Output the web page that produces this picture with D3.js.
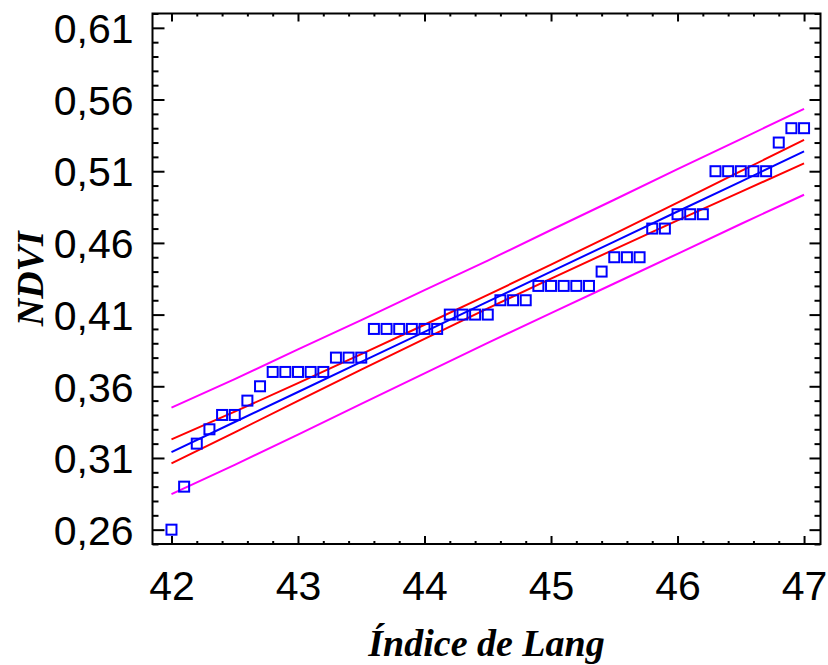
<!DOCTYPE html>
<html>
<head>
<meta charset="utf-8">
<script src="https://cdn.jsdelivr.net/npm/d3@7"></script>
<style>
  body { margin: 0; background: #fff; }
  svg { display: block; }
</style>
</head>
<body>
<div id="chart"></div>
<script>
// observed points (Índice de Lang vs NDVI)
var langX = [42.0, 42.1, 42.2, 42.3, 42.4, 42.5, 42.6, 42.7, 42.8, 42.9,
             43.0, 43.1, 43.2, 43.3, 43.4, 43.5, 43.6, 43.7, 43.8, 43.9,
             44.0, 44.1, 44.2, 44.3, 44.4, 44.5, 44.6, 44.7, 44.8, 44.9,
             45.0, 45.1, 45.2, 45.3, 45.4, 45.5, 45.6, 45.7, 45.8, 45.9,
             46.0, 46.1, 46.2, 46.3, 46.4, 46.5, 46.6, 46.7, 46.8, 46.9, 47.0];
var ndvi  = [0.26, 0.29, 0.32, 0.33, 0.34, 0.34, 0.35, 0.36, 0.37, 0.37,
             0.37, 0.37, 0.37, 0.38, 0.38, 0.38, 0.40, 0.40, 0.40, 0.40,
             0.40, 0.40, 0.41, 0.41, 0.41, 0.41, 0.42, 0.42, 0.42, 0.43,
             0.43, 0.43, 0.43, 0.43, 0.44, 0.45, 0.45, 0.45, 0.47, 0.47,
             0.48, 0.48, 0.48, 0.51, 0.51, 0.51, 0.51, 0.51, 0.53, 0.54, 0.54];

// fitted model and limits, read at half-unit steps
var lineX     = [42, 42.5, 43, 43.5, 44, 44.5, 45, 45.5, 46, 46.5, 47];
var fitted    = [0.3141, 0.3351, 0.3560, 0.3770, 0.3980, 0.4190, 0.4400, 0.4609, 0.4819, 0.5028, 0.5238];
var confUpper = [0.3230, 0.3423, 0.3622, 0.3824, 0.4029, 0.4237, 0.4449, 0.4663, 0.4881, 0.5100, 0.5318];
var confLower = [0.3062, 0.3279, 0.3498, 0.3716, 0.3931, 0.4143, 0.4351, 0.4555, 0.4757, 0.4956, 0.5155];
var predUpper = [0.3451, 0.3650, 0.3857, 0.4062, 0.4270, 0.4477, 0.4690, 0.4901, 0.5114, 0.5324, 0.5535];
var predLower = [0.2848, 0.3052, 0.3263, 0.3478, 0.3690, 0.3903, 0.4110, 0.4317, 0.4524, 0.4732, 0.4936];

var xMajor = [42, 43, 44, 45, 46, 47];
var yMajor = [0.26, 0.31, 0.36, 0.41, 0.46, 0.51, 0.56, 0.61];

(function() {
  var width = 828, height = 665;
  var m = { left: 152.5, right: 820.5, top: 13.5, bottom: 544 };

  var svg = d3.select("#chart").append("svg")
      .attr("width", width)
      .attr("height", height);

  var x = d3.scaleLinear().domain([41.85, 47.13]).range([m.left, m.right]);
  var y = d3.scaleLinear().domain([0.25, 0.62]).range([m.bottom, m.top]);

  var xMinor = d3.range(42, 47.13, 0.2).map(d => +d.toFixed(1)).filter(d => xMajor.indexOf(d) < 0);
  var yMinor = d3.range(0.25, 0.6201, 0.01).map(d => +d.toFixed(2)).filter(d => yMajor.indexOf(d) < 0);

  var comma = d => d3.format(".2f")(d).replace(".", ",");

  function styleAxis(g) {
    g.select(".domain").remove();
    g.selectAll(".tick line").attr("stroke", "#000").attr("stroke-width", 2);
  }

  // minor ticks
  svg.append("g").attr("transform", `translate(0,${m.bottom})`)
      .call(d3.axisBottom(x).tickValues(xMinor).tickSize(-3).tickFormat(""))
      .call(styleAxis);
  svg.append("g").attr("transform", `translate(0,${m.top})`)
      .call(d3.axisTop(x).tickValues(xMinor).tickSize(-3).tickFormat(""))
      .call(styleAxis);
  svg.append("g").attr("transform", `translate(${m.left},0)`)
      .call(d3.axisLeft(y).tickValues(yMinor).tickSize(-6).tickFormat(""))
      .call(styleAxis);
  svg.append("g").attr("transform", `translate(${m.right},0)`)
      .call(d3.axisRight(y).tickValues(yMinor).tickSize(-6).tickFormat(""))
      .call(styleAxis);

  // major ticks with labels
  var xAxis = svg.append("g").attr("transform", `translate(0,${m.bottom})`)
      .call(d3.axisBottom(x).tickValues(xMajor).tickSize(-8).tickPadding(27).tickFormat(d3.format("d")))
      .call(styleAxis);
  xAxis.selectAll("text")
      .attr("font-family", "Liberation Sans, Arial, sans-serif")
      .attr("font-size", "41px")
      .attr("fill", "#000")
      .attr("dy", "0.71em");

  svg.append("g").attr("transform", `translate(0,${m.top})`)
      .call(d3.axisTop(x).tickValues(xMajor).tickSize(-8).tickFormat(""))
      .call(styleAxis);

  var yAxis = svg.append("g").attr("transform", `translate(${m.left},0)`)
      .call(d3.axisLeft(y).tickValues(yMajor).tickSize(-12).tickPadding(19).tickFormat(comma))
      .call(styleAxis);
  yAxis.selectAll("text")
      .attr("font-family", "Liberation Sans, Arial, sans-serif")
      .attr("font-size", "41px")
      .attr("fill", "#000")
      .attr("dy", "0.36em");

  svg.append("g").attr("transform", `translate(${m.right},0)`)
      .call(d3.axisRight(y).tickValues(yMajor).tickSize(-11).tickFormat(""))
      .call(styleAxis);

  // frame
  svg.append("rect")
      .attr("x", m.left).attr("y", m.top)
      .attr("width", m.right - m.left).attr("height", m.bottom - m.top)
      .attr("fill", "none")
      .attr("stroke", "#000")
      .attr("stroke-width", 2);

  // regression line and limits
  var line = d3.line().x(d => x(d[0])).y(d => y(d[1]));
  var series = [
    { vals: predUpper, color: "#ff00ff" },
    { vals: predLower, color: "#ff00ff" },
    { vals: confUpper, color: "#ff0000" },
    { vals: confLower, color: "#ff0000" },
    { vals: fitted,    color: "#0000ff" }
  ];
  svg.append("g").selectAll("path")
      .data(series)
    .join("path")
      .attr("d", s => line(lineX.map((v, i) => [v, s.vals[i]])))
      .attr("fill", "none")
      .attr("stroke", s => s.color)
      .attr("stroke-width", 2);

  // points
  var pts = langX.map((v, i) => [v, ndvi[i]]);
  svg.append("g").selectAll("rect")
      .data(pts)
    .join("rect")
      .attr("x", d => x(d[0]) - 5)
      .attr("y", d => y(d[1]) - 5)
      .attr("width", 10)
      .attr("height", 10)
      .attr("fill", "none")
      .attr("stroke", "#0000ff")
      .attr("stroke-width", 2);

  // axis titles
  svg.append("text")
      .attr("x", (m.left + m.right) / 2)
      .attr("y", 656)
      .attr("text-anchor", "middle")
      .attr("font-family", "Liberation Serif, Times New Roman, serif")
      .attr("font-style", "italic")
      .attr("font-weight", "bold")
      .attr("font-size", "38px")
      .text("Índice de Lang");

  svg.append("text")
      .attr("transform", `translate(43,${(m.top + m.bottom) / 2}) rotate(-90)`)
      .attr("text-anchor", "middle")
      .attr("font-family", "Liberation Serif, Times New Roman, serif")
      .attr("font-style", "italic")
      .attr("font-weight", "bold")
      .attr("font-size", "38px")
      .text("NDVI");
})();
</script>
</body>
</html>
